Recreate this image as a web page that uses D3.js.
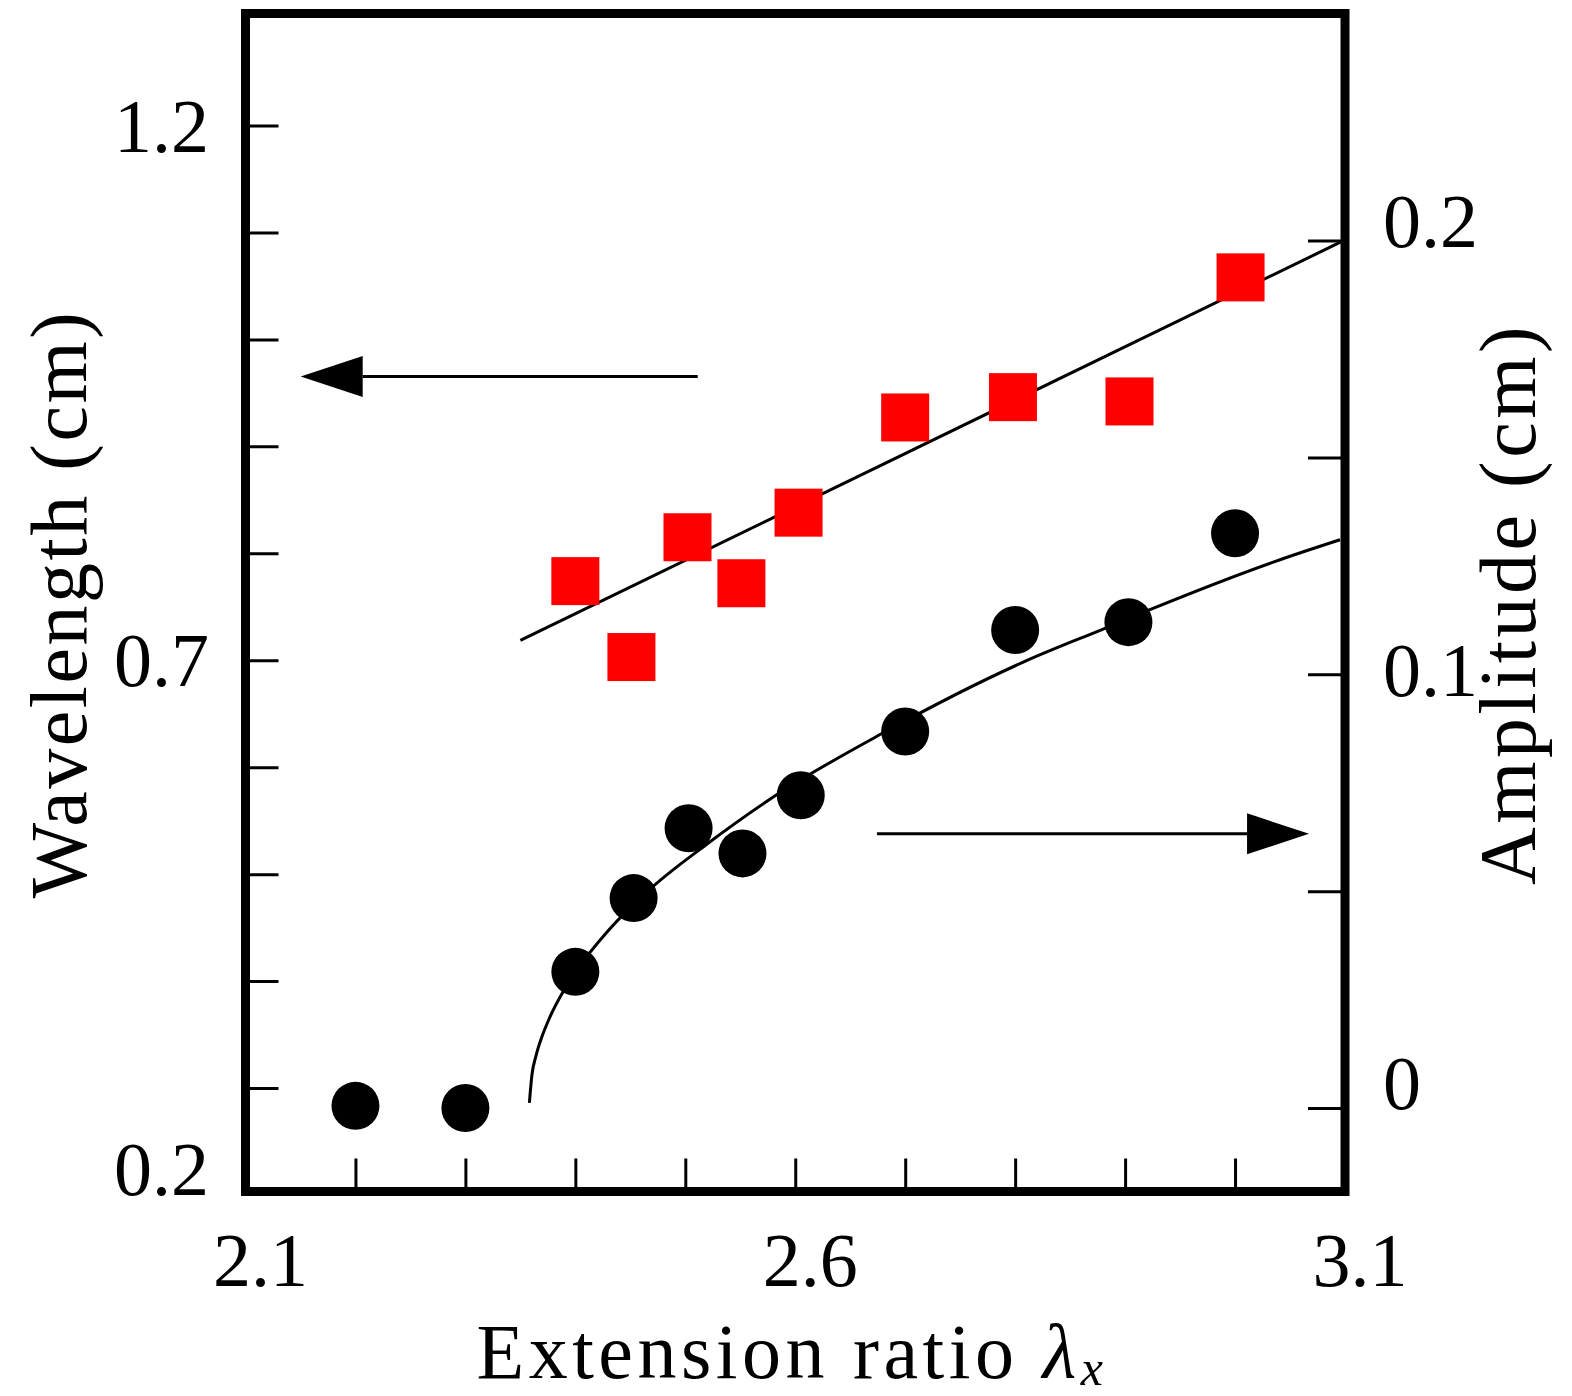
<!DOCTYPE html>
<html>
<head>
<meta charset="utf-8">
<script src="https://cdn.jsdelivr.net/npm/d3@7"></script>
<style>
  html, body { margin: 0; padding: 0; background: #fff; }
  svg { display: block; }
  text { font-family: "Liberation Serif", "Times New Roman", serif; fill: #000; }
</style>
</head>
<body>
<svg id="chart" width="1572" height="1396"></svg>
<script>
// Wavelength measurements (left axis)
const wavelengthX  = [2.400, 2.451, 2.502, 2.551, 2.603, 2.700, 2.798, 2.904, 3.005];
const wavelengthCm = [0.774, 0.703, 0.815, 0.772, 0.838, 0.927, 0.946, 0.942, 1.058];

// Amplitude measurements (right axis)
const amplitudeX  = [2.200, 2.300, 2.400, 2.453, 2.503, 2.552, 2.605, 2.700, 2.800, 2.903, 3.000];
const amplitudeCm = [0.0005, 0.0, 0.0314, 0.0484, 0.0645, 0.0587, 0.0721, 0.0868, 0.1102, 0.1120, 0.1325];

// Straight-line fit through the wavelength data
const wavelengthFitX  = [2.350, 3.100];
const wavelengthFitCm = [0.7185, 1.093];

// Fitted amplitude curve, rising steeply from onset
const amplitudeFitX  = [2.3582, 2.3605, 2.3642, 2.370, 2.3764, 2.390, 2.400, 2.430, 2.4694, 2.5195, 2.5831, 2.6801, 2.8074, 2.8817, 2.9226, 3.0409, 3.0955];
const amplitudeFitCm = [0.0012, 0.0076, 0.0120, 0.0167, 0.0207, 0.0273, 0.0313, 0.0409, 0.0508, 0.0608, 0.0722, 0.0865, 0.1028, 0.1106, 0.1149, 0.1264, 0.1310];

// Axis ticks and labels
const xTickValues     = [2.2, 2.3, 2.4, 2.5, 2.6, 2.7, 2.8, 2.9, 3.0];
const xLabelValues    = [2.1, 2.6, 3.1];
const xLabelText      = ["2.1", "2.6", "3.1"];
const leftTickValues  = [0.3, 0.4, 0.5, 0.6, 0.7, 0.8, 0.9, 1.0, 1.1, 1.2];
const leftLabelValues = [0.2, 0.7, 1.2];
const leftLabelText   = ["0.2", "0.7", "1.2"];
const rightTickValues = [0, 0.05, 0.1, 0.15, 0.2];
const rightLabelValues = [0, 0.1, 0.2];
const rightLabelText   = ["0", "0.1", "0.2"];

// Arrows telling which axis each series uses (data units)
const wavelengthArrowX  = [2.5113, 2.1502];   // tail, tip
const wavelengthArrowY  = 0.9654;
const amplitudeArrowX   = [2.6743, 3.0673];   // tail, tip
const amplitudeArrowY   = 0.0632;

// ---------------------------------------------------------------
const svg = d3.select("#chart");
const box = { left: 245.5, right: 1345, top: 13.5, bottom: 1191.5 };

const x  = d3.scaleLinear().domain([2.1, 3.1]).range([box.left, box.right]);
const yL = d3.scaleLinear().domain([0.2, 1.2]).range([1195, 125.5]);
const yR = d3.scaleLinear().domain([0, 0.2]).range([1108, 240.5]);

const tickStroke = 3;
const labelSize = 76;

// Inward ticks on three sides
function styleAxis(g) {
  g.select(".domain").remove();
  g.selectAll(".tick line").attr("stroke", "#000").attr("stroke-width", tickStroke);
  g.selectAll(".tick text").remove();
}
svg.append("g")
  .attr("transform", `translate(0,${box.bottom})`)
  .call(d3.axisBottom(x).tickValues(xTickValues).tickSize(-33).tickFormat(""))
  .call(styleAxis);
svg.append("g")
  .attr("transform", `translate(${box.left},0)`)
  .call(d3.axisLeft(yL).tickValues(leftTickValues).tickSize(-33).tickFormat(""))
  .call(styleAxis);
svg.append("g")
  .attr("transform", `translate(${box.right},0)`)
  .call(d3.axisRight(yR).tickValues(rightTickValues).tickSize(-37).tickFormat(""))
  .call(styleAxis);

// Tick labels
svg.append("g").selectAll("text")
  .data(xLabelValues)
  .join("text")
  .attr("x", d => x(d) + 15)
  .attr("y", 1286)
  .attr("text-anchor", "middle")
  .attr("font-size", labelSize)
  .text((d, i) => xLabelText[i]);

// labels at the ends of an axis sit on their tick instead of centring on it
const leftShift = v => (v === 0.2 ? 0 : 26);
svg.append("g").selectAll("text")
  .data(leftLabelValues)
  .join("text")
  .attr("x", 209)
  .attr("y", d => yL(d) + leftShift(d))
  .attr("text-anchor", "end")
  .attr("font-size", labelSize)
  .text((d, i) => leftLabelText[i]);

const rightShift = v => (v === 0 ? 1 : v === 0.2 ? 6.5 : 22);
svg.append("g").selectAll("text")
  .data(rightLabelValues)
  .join("text")
  .attr("x", 1383)
  .attr("y", d => yR(d) + rightShift(d))
  .attr("text-anchor", "start")
  .attr("font-size", labelSize)
  .text((d, i) => rightLabelText[i]);

// Fit lines
const wlLine = d3.line().x(d => x(d[0])).y(d => yL(d[1]));
svg.append("path")
  .datum(d3.zip(wavelengthFitX, wavelengthFitCm))
  .attr("d", wlLine)
  .attr("fill", "none").attr("stroke", "#000").attr("stroke-width", 3);

const ampLine = d3.line().x(d => x(d[0])).y(d => yR(d[1])).curve(d3.curveMonotoneX);
svg.append("path")
  .datum(d3.zip(amplitudeFitX, amplitudeFitCm))
  .attr("d", ampLine)
  .attr("fill", "none").attr("stroke", "#000").attr("stroke-width", 3);

// Markers
const sq = 48;
svg.append("g").selectAll("rect")
  .data(d3.zip(wavelengthX, wavelengthCm))
  .join("rect")
  .attr("x", d => x(d[0]) - sq / 2)
  .attr("y", d => yL(d[1]) - sq / 2)
  .attr("width", sq).attr("height", sq)
  .attr("fill", "#ff0000");

svg.append("g").selectAll("circle")
  .data(d3.zip(amplitudeX, amplitudeCm))
  .join("circle")
  .attr("cx", d => x(d[0]))
  .attr("cy", d => yR(d[1]))
  .attr("r", 24)
  .attr("fill", "#000");

// Arrows
function arrow(x0, x1, yPix) {
  const headLen = 62, halfW = 20.5;
  const dir = Math.sign(x1 - x0);
  const baseX = x1 - dir * headLen;
  svg.append("line")
    .attr("x1", x0).attr("x2", baseX)
    .attr("y1", yPix).attr("y2", yPix)
    .attr("stroke", "#000").attr("stroke-width", 3);
  svg.append("path")
    .attr("d", `M${x1},${yPix} L${baseX},${yPix - halfW} L${baseX},${yPix + halfW} Z`)
    .attr("fill", "#000");
}
arrow(x(wavelengthArrowX[0]), x(wavelengthArrowX[1]), yL(wavelengthArrowY));
arrow(x(amplitudeArrowX[0]), x(amplitudeArrowX[1]), yR(amplitudeArrowY));

// Frame
svg.append("rect")
  .attr("x", box.left).attr("y", box.top)
  .attr("width", box.right - box.left).attr("height", box.bottom - box.top)
  .attr("fill", "none").attr("stroke", "#000").attr("stroke-width", 9)
  .attr("stroke-linejoin", "miter");

// Axis titles
const titleSize = 78;
const xTitle = svg.append("text")
  .attr("x", 792).attr("y", 1378)
  .attr("text-anchor", "middle")
  .attr("font-size", titleSize)
  .attr("letter-spacing", 4.5);
xTitle.append("tspan").text("Extension ratio ");
xTitle.append("tspan").attr("font-style", "italic").text("λ");
xTitle.append("tspan").attr("font-style", "italic").attr("font-size", 50).attr("dy", 7).text("x");

svg.append("text")
  .attr("transform", "translate(86,604) rotate(-90)")
  .attr("text-anchor", "middle")
  .attr("font-size", 80)
  .attr("letter-spacing", 2.5)
  .text("Wavelength (cm)");

svg.append("text")
  .attr("transform", "translate(1535,604) rotate(-90)")
  .attr("text-anchor", "middle")
  .attr("font-size", 80)
  .attr("letter-spacing", 3.5)
  .text("Amplitude (cm)");
</script>
</body>
</html>
